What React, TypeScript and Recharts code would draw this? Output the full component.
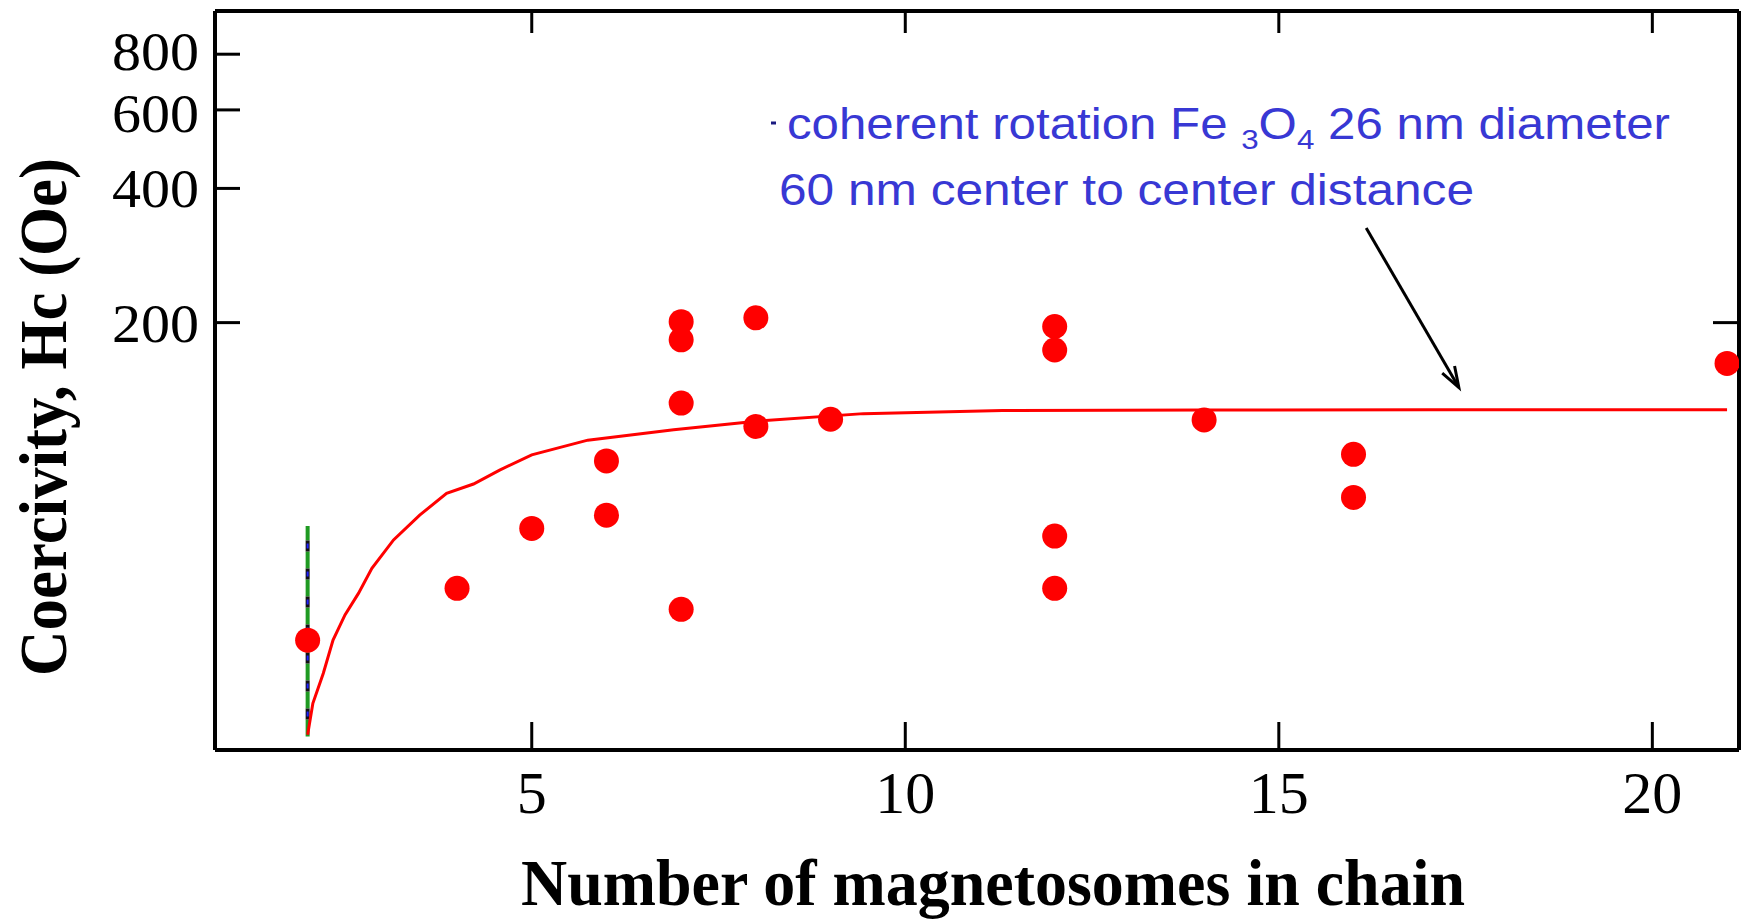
import React, { useEffect } from 'react';
import { ComposedChart, XAxis, YAxis, Line, Scatter, ReferenceLine } from 'recharts';

// ---- data ----
const xTicks = [5, 10, 15, 20];
const yTicks = [200, 400, 600, 800];
const rightTicks = [200];

const chainLength = [2, 4, 5, 6, 6, 7, 7, 7, 7, 8, 8, 9, 12, 12, 12, 12, 14, 16, 16, 21];
const coercivity = [38.8, 50.7, 69.1, 74.0, 97.9, 45.5, 132, 183, 201, 117, 205, 121.4, 50.7, 66.4, 173.6, 196, 121, 81.1, 101.3, 162];

const fitN = [2, 2.07, 2.21, 2.34, 2.5, 2.68, 2.86, 3.15, 3.5, 3.86, 4.22, 4.57, 5, 5.75, 6.9, 8.07, 9.44, 11.3, 14, 17, 21];
const fitHc = [23.8, 28.0, 32.7, 38.8, 44.2, 49.4, 56.2, 65.1, 74.0, 82.8, 86.9, 93.4, 101, 109, 115, 120.5, 125, 127, 127.4, 127.5, 127.5];

const markerN = [2, 2];
const markerHc = [23.6, 70];

const arrowN = [16.17, 17.41];
const arrowHc = [326, 143];

const xDomain = [0.76, 21.16];
const yDomain = [22, 1000];

const xTitle = 'Number of magnetosomes in chain';
const yTitle = 'Coercivity, Hc (Oe)';

// ---- built tables ----
const points = chainLength.map((n, i) => ({ n, hc: coercivity[i] }));
const fit = fitN.map((n, i) => ({ n, hc: fitHc[i] }));
const marker = markerN.map((n, i) => ({ n, hc: markerHc[i] }));
const arrowSeg = arrowN.map((n, i) => ({ x: n, y: arrowHc[i] }));

const SERIF = '"Liberation Serif", "Times New Roman", serif';
const SANS = '"Liberation Sans", Arial, sans-serif';

const BottomTick = (p: any) => (
  <g>
    <line x1={p.x} y1={p.y} x2={p.x} y2={p.y - 28} stroke="#000" strokeWidth={3} />
    <text x={p.x} y={p.y + 63} textAnchor="middle" fontFamily={SERIF} fontSize={60} fill="#000">
      {p.payload.value}
    </text>
  </g>
);

const LeftTick = (p: any) => {
  const v = p.payload.value;
  const nudge = v === 800 ? -3 : v === 600 ? 3 : 0;
  return (
    <g>
      <line x1={p.x} y1={p.y} x2={p.x + 25} y2={p.y} stroke="#000" strokeWidth={3} />
      <text
        x={p.x - 16}
        y={p.y + 19 + nudge}
        textAnchor="end"
        fontFamily={SERIF}
        fontSize={55}
        textLength={87}
        lengthAdjust="spacingAndGlyphs"
        fill="#000"
      >
        {v}
      </text>
    </g>
  );
};

const TopTick = (p: any) => (
  <line x1={p.x} y1={p.y} x2={p.x} y2={p.y + 22} stroke="#000" strokeWidth={3} />
);

const RightTick = (p: any) => (
  <line x1={p.x} y1={p.y} x2={p.x - 26} y2={p.y} stroke="#000" strokeWidth={3} />
);

const Dot = (p: any) => <circle cx={p.cx} cy={p.cy} r={12.5} fill="#ff0000" />;

const Arrow = (p: any) => {
  const { x1, y1, x2, y2 } = p;
  const ang = Math.atan2(y2 - y1, x2 - x1);
  const L = 22;
  const a1 = ang + Math.PI - 0.33;
  const a2 = ang + Math.PI + 0.33;
  return (
    <g>
      <line x1={x1} y1={y1} x2={x2} y2={y2} stroke="#000" strokeWidth={3} />
      <polyline
        points={`${x2 + L * Math.cos(a1)},${y2 + L * Math.sin(a1)} ${x2},${y2} ${x2 + L * Math.cos(a2)},${y2 + L * Math.sin(a2)}`}
        fill="none"
        stroke="#000"
        strokeWidth={3}
      />
    </g>
  );
};

export default function App() {
  useEffect(() => {
    document.body.style.margin = '0';
  }, []);
  return (
    <div style={{ position: 'absolute', left: 0, top: 0, width: 1747, height: 922, background: '#fff' }}>
      <ComposedChart width={1747} height={922} margin={{ top: 6, right: 3, bottom: 112, left: 115 }}>
        <XAxis
          xAxisId="b"
          dataKey="n"
          type="number"
          domain={xDomain}
          allowDataOverflow
          ticks={xTicks}
          interval={0}
          height={60}
          tickSize={0}
          tickMargin={0}
          tickLine={false}
          axisLine={{ stroke: '#000', strokeWidth: 4 }}
          tick={BottomTick}
        />
        <XAxis
          xAxisId="t"
          orientation="top"
          dataKey="n"
          type="number"
          domain={xDomain}
          allowDataOverflow
          ticks={xTicks}
          interval={0}
          height={5}
          tickSize={0}
          tickMargin={0}
          tickLine={false}
          axisLine={{ stroke: '#000', strokeWidth: 4 }}
          tick={TopTick}
        />
        <YAxis
          yAxisId="l"
          dataKey="hc"
          scale="log"
          type="number"
          domain={yDomain}
          allowDataOverflow
          ticks={yTicks}
          interval={0}
          width={100}
          tickSize={0}
          tickMargin={0}
          tickLine={false}
          axisLine={{ stroke: '#000', strokeWidth: 4 }}
          tick={LeftTick}
        />
        <YAxis
          yAxisId="r"
          orientation="right"
          dataKey="hc"
          scale="log"
          type="number"
          domain={yDomain}
          allowDataOverflow
          ticks={rightTicks}
          interval={0}
          width={5}
          tickSize={0}
          tickMargin={0}
          tickLine={false}
          axisLine={{ stroke: '#000', strokeWidth: 4 }}
          tick={RightTick}
        />
        <Line
          xAxisId="b"
          yAxisId="l"
          data={marker}
          dataKey="hc"
          stroke="#1f9a22"
          strokeWidth={4}
          strokeDasharray="17 11"
          dot={false}
          activeDot={false}
          isAnimationActive={false}
        />
        <Line
          xAxisId="b"
          yAxisId="l"
          data={marker}
          dataKey="hc"
          stroke="#111111"
          strokeWidth={4}
          strokeDasharray="0 17 11 0"
          dot={false}
          activeDot={false}
          isAnimationActive={false}
        />
        <Line
          xAxisId="b"
          yAxisId="l"
          data={marker}
          dataKey="hc"
          stroke="#2020ff"
          strokeWidth={2}
          strokeDasharray="0 20 5 3"
          dot={false}
          activeDot={false}
          isAnimationActive={false}
        />
        <Line
          xAxisId="t"
          yAxisId="r"
          data={fit}
          dataKey="hc"
          stroke="#ff0000"
          strokeWidth={3}
          dot={false}
          activeDot={false}
          isAnimationActive={false}
        />
        <Scatter
          xAxisId="b"
          yAxisId="l"
          data={points}
          dataKey="hc"
          shape={Dot}
          isAnimationActive={false}
        />
        <ReferenceLine
          xAxisId="b"
          yAxisId="l"
          segment={arrowSeg}
          shape={Arrow}
        />
        <text
          x={993}
          y={905}
          textAnchor="middle"
          fontFamily={SERIF}
          fontWeight="bold"
          fontSize={66}
          textLength={944}
          lengthAdjust="spacingAndGlyphs"
          fill="#000"
        >
          {xTitle}
        </text>
        <text
          transform="translate(66,417) rotate(-90)"
          x={0}
          y={0}
          textAnchor="middle"
          fontFamily={SERIF}
          fontWeight="bold"
          fontSize={68}
          textLength={518}
          lengthAdjust="spacingAndGlyphs"
          fill="#000"
        >
          {yTitle}
        </text>
        <line x1={771} y1={123} x2={776} y2={123} stroke="#1a1a80" strokeWidth={3} />
        <text x={787} y={139} fontFamily={SANS} fontSize={44} fill="#3838d4" textLength={883} lengthAdjust="spacingAndGlyphs">
          coherent rotation Fe <tspan fontSize={28} dy={10}>3</tspan>
          <tspan dy={-10}>O</tspan>
          <tspan fontSize={28} dy={10}>4</tspan>
          <tspan dy={-10}> 26 nm diameter</tspan>
        </text>
        <text x={779} y={205} fontFamily={SANS} fontSize={44} fill="#3838d4" textLength={695} lengthAdjust="spacingAndGlyphs">
          60 nm center to center distance
        </text>
      </ComposedChart>
    </div>
  );
}
